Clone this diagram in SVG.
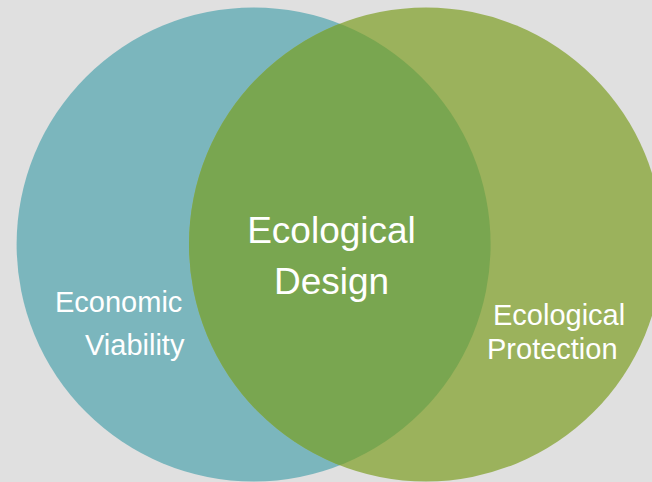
<svg xmlns="http://www.w3.org/2000/svg" width="652" height="482" viewBox="0 0 652 482">
  <defs>
    <clipPath id="clipLeft"><circle cx="253.6" cy="244.5" r="237"/></clipPath>
    <style>
      text { font-family: "Liberation Sans", Arial, sans-serif; fill: #ffffff; }
      .big { font-size: 37px; }
      .small { font-size: 29px; }
    </style>
  </defs>
  <rect width="652" height="482" fill="#e0e0e0"/>
  <g id="economic-viability">
    <circle cx="253.6" cy="244.5" r="237" fill="#7bb6bd"/>
    <text class="small" x="55" y="312">Economic</text>
    <text class="small" x="85" y="355">Viability</text>
  </g>
  <g id="ecological-protection">
    <circle cx="426" cy="244.5" r="237" fill="#9bb25c"/>
    <text class="small" x="493" y="325">Ecological</text>
    <text class="small" x="487" y="359">Protection</text>
  </g>
  <g id="ecological-design">
    <circle cx="426" cy="244.5" r="237" fill="#79a650" clip-path="url(#clipLeft)"/>
    <text class="big" x="331.5" y="243" text-anchor="middle">Ecological</text>
    <text class="big" x="331.5" y="294" text-anchor="middle">Design</text>
  </g>
  <g id="connectors"/>
</svg>
